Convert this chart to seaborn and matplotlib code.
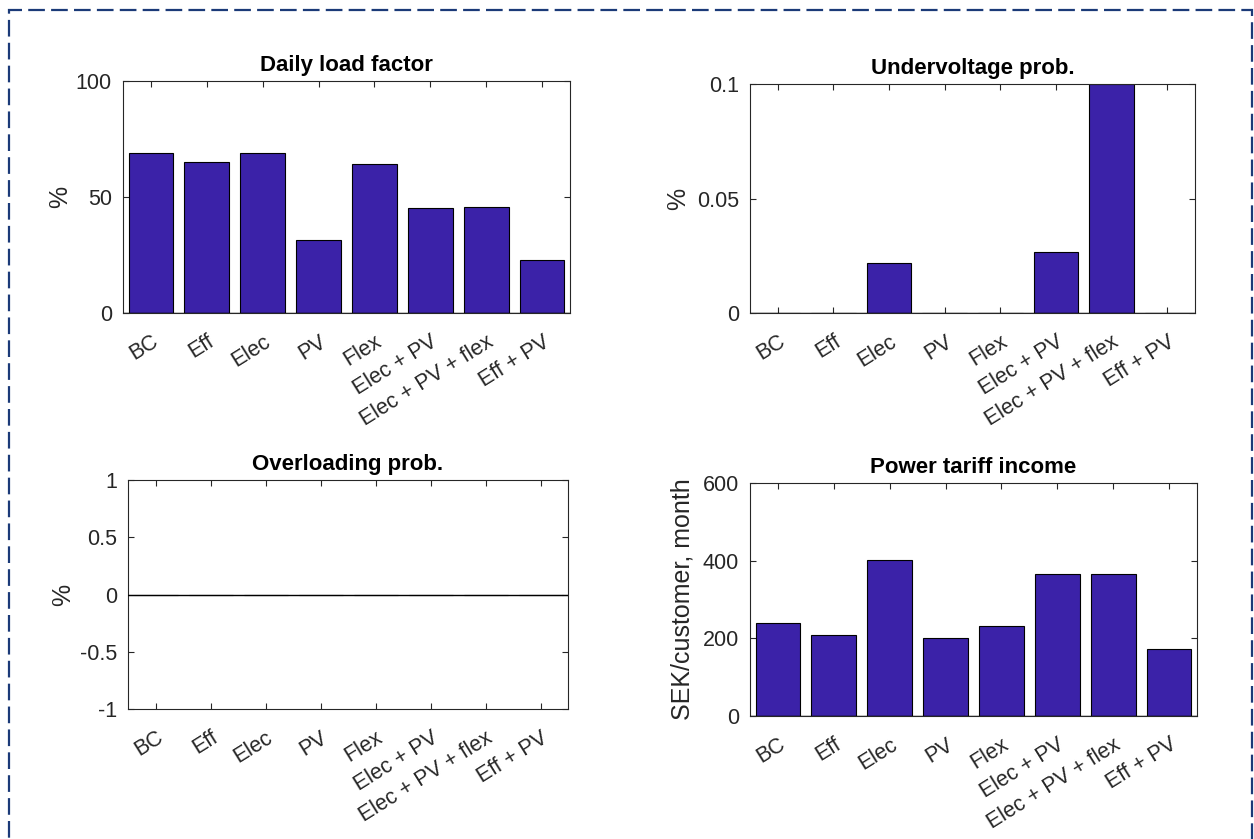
import matplotlib
matplotlib.use("Agg")
import matplotlib.pyplot as plt
import matplotlib.ticker as mticker
from matplotlib.patches import Rectangle
import seaborn as sns

# scenario names shared by all four panels
scenarios = ['BC', 'Eff', 'Elec', 'PV', 'Flex', 'Elec + PV', 'Elec + PV + flex', 'Eff + PV']

# values
load_factor = [68.9, 65.1, 68.9, 31.6, 64.3, 45.2, 45.9, 23.0]
undervoltage = [0, 0, 0.0218, 0, 0, 0.0266, 0.1, 0]
overloading = [0, 0, 0, 0, 0, 0, 0, 0]
tariff_income = [239, 208, 402, 202, 232, 365, 365, 172]

titles = ['Daily load factor', 'Undervoltage prob.', 'Overloading prob.', 'Power tariff income']
ylabels = ['%', '%', '%', 'SEK/customer, month']
yticks = [[0, 50, 100], [0, 0.05, 0.1], [-1, -0.5, 0, 0.5, 1], [0, 200, 400, 600]]

bar_color = '#3b22a8'
grey = '#262626'

sns.set_theme(style='white')
plt.rcParams['font.family'] = ['Liberation Sans', 'DejaVu Sans']

fig = plt.figure(figsize=(12.54, 8.39), dpi=100)

# axes boxes in figure fractions (left, bottom, width, height)
boxes = [[0.0981, 0.6269, 0.3565, 0.2765],
         [0.5981, 0.6269, 0.3549, 0.2729],
         [0.1021, 0.1549, 0.3509, 0.2729],
         [0.5981, 0.1466, 0.3565, 0.2777]]
label_pads = [2.5, 5, 3, 6]
series = [load_factor, undervoltage, overloading, tariff_income]

for box, vals, title, ylab, ticks, lp in zip(boxes, series, titles, ylabels, yticks, label_pads):
    ax = fig.add_axes(box)
    sns.barplot(x=scenarios, y=vals, color=bar_color, saturation=1,
                edgecolor='black', linewidth=0.8, width=0.8, ax=ax)
    ax.axhline(0, color='black', lw=1.0, zorder=3)
    ax.set_ylim(ticks[0], ticks[-1])
    ax.set_xlim(-0.5, len(scenarios) - 0.5)
    ax.set_yticks(ticks)
    ax.yaxis.set_major_formatter(mticker.FormatStrFormatter('%g'))
    ax.set_xticks(range(len(scenarios)))
    ax.set_xticklabels(scenarios, rotation=32, ha='right', va='top',
                       rotation_mode='anchor', fontsize=15.5, color=grey)
    ax.tick_params(axis='y', labelsize=15.5, labelcolor=grey)
    ax.tick_params(direction='in', length=4, width=0.8, color=grey,
                   top=True, right=True, bottom=True, left=True)
    ax.tick_params(axis='x', pad=13)
    ax.tick_params(axis='y', pad=8)
    for sp in ax.spines.values():
        sp.set_visible(True)
        sp.set_color(grey)
        sp.set_linewidth(0.8)
    ax.set_title(title, fontsize=16, fontweight='bold', color='black', pad=7)
    ax.set_ylabel(ylab, fontsize=18, color=grey, labelpad=lp)
    ax.set_xlabel('')

# dashed frame around the whole picture (bottom edge runs off the image)
frame = Rectangle((9 / 1254, -0.05), (1252 - 9) / 1254, 1 - 10 / 839 + 0.05,
                  transform=fig.transFigure, fill=False, edgecolor='#1b3a78',
                  linewidth=1.6, linestyle=(0, (7.5, 2.8)), clip_on=False)
fig.patches.append(frame)

fig.savefig('out.png', dpi=100, facecolor='white')
plt.close(fig)
